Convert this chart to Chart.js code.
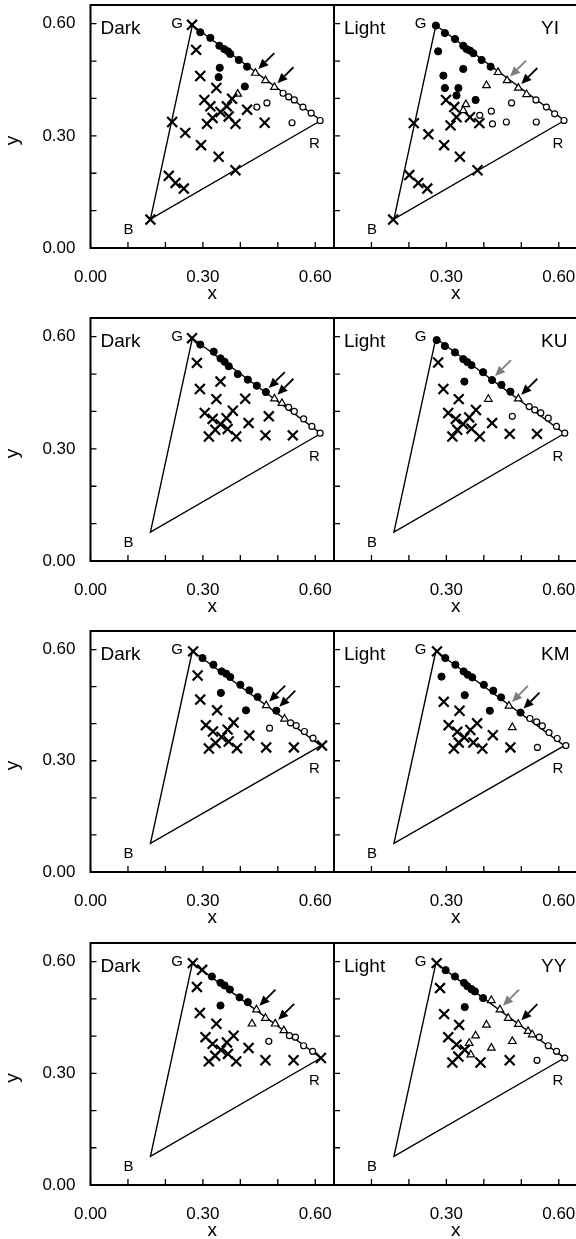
<!DOCTYPE html>
<html>
<head>
<meta charset="utf-8">
<script src="https://cdn.jsdelivr.net/npm/chart.js@4.4.1/dist/chart.umd.min.js"></script>
<style>
html,body{margin:0;padding:0;background:#fff;overflow:hidden;width:576px;height:1239px;}
canvas{position:absolute;}
</style>
</head>
<body>
<script>
// axis ticks (minor every 0.1, labelled every 0.3)
const axisTicks = [0, 0.1, 0.2, 0.3, 0.4, 0.5, 0.6];
const labelledTicks = [0, 0.3, 0.6];

// display primaries
const gamutNames = ['G', 'B', 'R'];
const gamutX = [0.272, 0.160, 0.615];
const gamutY = [0.596, 0.077, 0.341];

const observers = ['YI', 'KU', 'KM', 'YY'];
const conditions = ['Dark', 'Light'];

// ---- YI ----
const yiDarkFilled = [[0.293,0.577],[0.320,0.562],[0.344,0.541],[0.357,0.532],[0.367,0.526],[0.373,0.519],[0.396,0.503],[0.418,0.485],[0.345,0.482],[0.342,0.457],[0.412,0.432]];
const yiDarkTri = [[0.440,0.468],[0.467,0.448],[0.491,0.430],[0.393,0.412]];
const yiDarkOpen = [[0.514,0.414],[0.529,0.404],[0.544,0.396],[0.567,0.377],[0.589,0.361],[0.613,0.341],[0.444,0.377],[0.471,0.388],[0.538,0.335]];
const yiDarkCross = [[0.271,0.597],[0.282,0.530],[0.293,0.460],[0.336,0.428],[0.304,0.396],[0.320,0.379],[0.311,0.332],[0.326,0.348],[0.347,0.364],[0.364,0.379],[0.378,0.399],[0.369,0.352],[0.387,0.332],[0.418,0.370],[0.465,0.335],[0.218,0.337],[0.253,0.308],[0.295,0.275],[0.342,0.244],[0.387,0.208],[0.209,0.193],[0.227,0.174],[0.249,0.159],[0.160,0.076]];
const yiDarkArrows = [[0.440,0.468],[0.491,0.430]];

const yiLightFilled = [[0.272,0.595],[0.296,0.575],[0.323,0.559],[0.345,0.541],[0.354,0.532],[0.363,0.528],[0.372,0.521],[0.394,0.503],[0.418,0.485],[0.278,0.526],[0.292,0.461],[0.345,0.479],[0.296,0.428],[0.332,0.428],[0.327,0.408],[0.378,0.396]];
const yiLightTri = [[0.438,0.470],[0.462,0.448],[0.492,0.428],[0.514,0.411],[0.407,0.435],[0.352,0.384],[0.345,0.368]];
const yiLightOpen = [[0.539,0.396],[0.567,0.377],[0.589,0.359],[0.614,0.341],[0.389,0.355],[0.420,0.366],[0.474,0.388],[0.423,0.332],[0.460,0.337],[0.540,0.337]];
const yiLightCross = [[0.299,0.396],[0.321,0.377],[0.327,0.350],[0.311,0.328],[0.363,0.350],[0.388,0.334],[0.213,0.334],[0.252,0.304],[0.294,0.275],[0.336,0.244],[0.383,0.208],[0.201,0.195],[0.225,0.174],[0.249,0.159],[0.158,0.076]];
const yiLightArrows = [[0.462,0.448],[0.492,0.428]];

// ---- KU ----
const kuDarkFilled = [[0.293,0.579],[0.329,0.560],[0.347,0.542],[0.358,0.533],[0.369,0.521],[0.393,0.500],[0.420,0.485],[0.444,0.469],[0.468,0.452]];
const kuDarkTri = [[0.491,0.434],[0.511,0.422]];
const kuDarkOpen = [[0.529,0.411],[0.544,0.400],[0.569,0.380],[0.591,0.360],[0.613,0.342]];
const kuDarkCross = [[0.271,0.596],[0.284,0.530],[0.292,0.460],[0.347,0.480],[0.336,0.433],[0.413,0.434],[0.305,0.396],[0.326,0.380],[0.316,0.333],[0.333,0.351],[0.347,0.366],[0.363,0.382],[0.380,0.402],[0.366,0.353],[0.389,0.333],[0.422,0.369],[0.476,0.387],[0.467,0.336],[0.540,0.336]];
const kuDarkArrows = [[0.468,0.452],[0.491,0.434]];

const kuLightFilled = [[0.274,0.591],[0.296,0.575],[0.323,0.558],[0.345,0.540],[0.356,0.532],[0.367,0.524],[0.398,0.505],[0.422,0.484],[0.447,0.471],[0.471,0.453],[0.348,0.480]];
const kuLightTri = [[0.492,0.434],[0.412,0.433]];
const kuLightOpen = [[0.521,0.413],[0.536,0.404],[0.552,0.396],[0.572,0.382],[0.594,0.360],[0.616,0.342],[0.476,0.387]];
const kuLightCross = [[0.278,0.531],[0.292,0.460],[0.333,0.433],[0.305,0.396],[0.325,0.380],[0.379,0.404],[0.361,0.384],[0.345,0.366],[0.316,0.333],[0.329,0.351],[0.367,0.354],[0.389,0.333],[0.422,0.369],[0.469,0.340],[0.542,0.340]];
const kuLightArrows = [[0.422,0.484],[0.492,0.434]];

// ---- KM ----
const kmDarkFilled = [[0.299,0.577],[0.328,0.559],[0.350,0.541],[0.362,0.535],[0.373,0.526],[0.400,0.505],[0.424,0.490],[0.446,0.472],[0.496,0.435],[0.348,0.483],[0.415,0.436]];
const kmDarkTri = [[0.469,0.449],[0.518,0.413]];
const kmDarkOpen = [[0.534,0.402],[0.549,0.395],[0.571,0.379],[0.594,0.361],[0.478,0.388]];
const kmDarkCross = [[0.274,0.595],[0.618,0.341],[0.286,0.530],[0.293,0.465],[0.338,0.436],[0.308,0.396],[0.327,0.379],[0.316,0.333],[0.334,0.348],[0.350,0.364],[0.366,0.384],[0.382,0.403],[0.369,0.352],[0.391,0.334],[0.424,0.368],[0.469,0.336],[0.543,0.336]];
const kmDarkArrows = [[0.469,0.449],[0.496,0.435]];

const kmLightFilled = [[0.297,0.577],[0.324,0.559],[0.346,0.541],[0.357,0.532],[0.369,0.525],[0.400,0.505],[0.425,0.489],[0.446,0.471],[0.498,0.430],[0.287,0.527],[0.349,0.477],[0.416,0.435]];
const kmLightTri = [[0.467,0.448],[0.476,0.390]];
const kmLightOpen = [[0.523,0.414],[0.541,0.405],[0.556,0.394],[0.574,0.376],[0.596,0.360],[0.619,0.341],[0.543,0.336]];
const kmLightCross = [[0.275,0.595],[0.293,0.459],[0.335,0.435],[0.306,0.396],[0.329,0.378],[0.382,0.401],[0.364,0.383],[0.348,0.363],[0.320,0.333],[0.333,0.349],[0.372,0.349],[0.396,0.333],[0.424,0.369],[0.471,0.336]];
const kmLightArrows = [[0.467,0.448],[0.498,0.430]];

// ---- YY ----
const yyDarkFilled = [[0.324,0.560],[0.347,0.543],[0.358,0.536],[0.372,0.525],[0.398,0.504],[0.420,0.491],[0.347,0.482]];
const yyDarkTri = [[0.443,0.471],[0.467,0.448],[0.493,0.433],[0.516,0.415],[0.431,0.433]];
const yyDarkOpen = [[0.531,0.401],[0.547,0.397],[0.569,0.374],[0.593,0.359],[0.476,0.386]];
const yyDarkCross = [[0.273,0.596],[0.298,0.578],[0.615,0.341],[0.284,0.532],[0.292,0.462],[0.336,0.433],[0.307,0.397],[0.326,0.379],[0.316,0.332],[0.333,0.347],[0.348,0.363],[0.364,0.383],[0.382,0.401],[0.367,0.352],[0.389,0.332],[0.422,0.368],[0.467,0.335],[0.542,0.335]];
const yyDarkArrows = [[0.443,0.471],[0.493,0.433]];

const yyLightFilled = [[0.298,0.577],[0.323,0.560],[0.347,0.543],[0.356,0.534],[0.367,0.526],[0.376,0.520],[0.398,0.502],[0.349,0.478]];
const yyLightTri = [[0.420,0.496],[0.443,0.471],[0.465,0.448],[0.492,0.432],[0.518,0.413],[0.529,0.404],[0.407,0.430],[0.378,0.401],[0.361,0.381],[0.365,0.350],[0.420,0.368],[0.476,0.386]];
const yyLightOpen = [[0.548,0.397],[0.572,0.374],[0.594,0.359],[0.616,0.341],[0.542,0.335]];
const yyLightCross = [[0.274,0.596],[0.283,0.529],[0.294,0.459],[0.334,0.430],[0.305,0.397],[0.327,0.377],[0.316,0.329],[0.332,0.345],[0.349,0.363],[0.391,0.329],[0.469,0.335]];
const yyLightArrows = [[0.443,0.471],[0.492,0.432]];

const panels = [
  {obs:'YI', cond:'Dark',  filled:yiDarkFilled,  open:yiDarkOpen,  tri:yiDarkTri,  cross:yiDarkCross,  arrows:yiDarkArrows},
  {obs:'YI', cond:'Light', filled:yiLightFilled, open:yiLightOpen, tri:yiLightTri, cross:yiLightCross, arrows:yiLightArrows},
  {obs:'KU', cond:'Dark',  filled:kuDarkFilled,  open:kuDarkOpen,  tri:kuDarkTri,  cross:kuDarkCross,  arrows:kuDarkArrows},
  {obs:'KU', cond:'Light', filled:kuLightFilled, open:kuLightOpen, tri:kuLightTri, cross:kuLightCross, arrows:kuLightArrows},
  {obs:'KM', cond:'Dark',  filled:kmDarkFilled,  open:kmDarkOpen,  tri:kmDarkTri,  cross:kmDarkCross,  arrows:kmDarkArrows},
  {obs:'KM', cond:'Light', filled:kmLightFilled, open:kmLightOpen, tri:kmLightTri, cross:kmLightCross, arrows:kmLightArrows},
  {obs:'YY', cond:'Dark',  filled:yyDarkFilled,  open:yyDarkOpen,  tri:yyDarkTri,  cross:yyDarkCross,  arrows:yyDarkArrows},
  {obs:'YY', cond:'Light', filled:yyLightFilled, open:yyLightOpen, tri:yyLightTri, cross:yyLightCross, arrows:yyLightArrows}
];

// layout
const FONT = '"Liberation Sans", Arial, Helvetica, sans-serif';
const rowBox = [[5,248],[318,561],[631,872],[943,1185]];
const AREA_LEFT = [90.5, 334];
const AREA_W = 243.5;
const PAD_TOP = 8, X_AXIS_H = 57;

Chart.defaults.font.family = FONT;
Chart.defaults.color = '#000';

const toPts = arr => arr.map(([x, y]) => ({x, y}));
const near = (a, b) => Math.abs(a - b) < 1e-6;

function drawArrow(ctx, tx, ty, color) {
  const tailX = tx + 16, tailY = ty - 16;
  const ang = Math.atan2(ty - tailY, tx - tailX);
  const headLen = 10, headW = 4.5;
  const bx = tx - Math.cos(ang) * headLen, by = ty - Math.sin(ang) * headLen;
  ctx.strokeStyle = color;
  ctx.lineWidth = 1.8;
  ctx.beginPath();
  ctx.moveTo(tailX, tailY);
  ctx.lineTo(bx, by);
  ctx.stroke();
  ctx.fillStyle = color;
  ctx.beginPath();
  ctx.moveTo(tx, ty);
  ctx.lineTo(bx + Math.sin(ang) * headW, by - Math.cos(ang) * headW);
  ctx.lineTo(bx - Math.sin(ang) * headW, by + Math.cos(ang) * headW);
  ctx.closePath();
  ctx.fill();
}

function decorPlugin(p, col) {
  return {
    id: 'decor',
    afterDatasetsDraw(chart) {
      const ctx = chart.ctx, a = chart.chartArea;
      const xs = chart.scales.x, ys = chart.scales.y;
      ctx.save();
      // frame
      ctx.strokeStyle = '#000';
      ctx.lineWidth = 2;
      ctx.strokeRect(a.left, a.top, a.right - a.left, a.bottom - a.top);
      // inward ticks
      ctx.lineWidth = 1.3;
      ctx.beginPath();
      axisTicks.forEach(v => {
        const px = xs.getPixelForValue(v);
        ctx.moveTo(px, a.bottom); ctx.lineTo(px, a.bottom - 6);
        const py = ys.getPixelForValue(v);
        ctx.moveTo(a.left, py); ctx.lineTo(a.left + 6, py);
      });
      ctx.stroke();
      // arrows
      p.arrows.forEach(([x, y], i) => {
        const shade = (col === 1 && i === 0) ? '#7d7d7d' : '#000';
        drawArrow(ctx, xs.getPixelForValue(x) + 3, ys.getPixelForValue(y) - 4, shade);
      });
      // primaries
      ctx.fillStyle = '#000';
      ctx.font = '15px ' + FONT;
      ctx.textBaseline = 'alphabetic';
      const vx = gamutX.map(v => xs.getPixelForValue(v));
      const vy = gamutY.map(v => ys.getPixelForValue(v));
      ctx.textAlign = 'right';
      ctx.fillText(gamutNames[0], vx[0] - 9.5, vy[0] + 3);
      ctx.fillText(gamutNames[1], vx[1] - 17, vy[1] + 15);
      ctx.textAlign = 'left';
      ctx.fillText(gamutNames[2], vx[2] - 12, vy[2] + 27);
      // condition / observer
      ctx.font = '19px ' + FONT;
      ctx.fillText(p.cond, a.left + 10, a.top + 29);
      if (col === 1) ctx.fillText(p.obs, a.left + 207, a.top + 29);
      // y title
      if (col === 0) {
        ctx.save();
        ctx.translate(18, (a.top + a.bottom) / 2 + 14);
        ctx.rotate(-Math.PI / 2);
        ctx.textAlign = 'center';
        ctx.fillText('y', 0, 0);
        ctx.restore();
      }
      ctx.restore();
    }
  };
}

panels.forEach(p => {
  const row = observers.indexOf(p.obs);
  const col = conditions.indexOf(p.cond);
  const [top, bottom] = rowBox[row];
  const plotH = bottom - top;
  const yAxisW = col === 0 ? AREA_LEFT[0] : 10;
  const left = AREA_LEFT[col] - yAxisW;
  const width = col === 0 ? 340 : 256;
  const height = PAD_TOP + plotH + X_AXIS_H;
  const padRight = width - yAxisW - AREA_W;

  const canvas = document.createElement('canvas');
  canvas.width = width;
  canvas.height = height;
  canvas.style.left = left + 'px';
  canvas.style.top = (top - PAD_TOP) + 'px';
  canvas.style.width = width + 'px';
  canvas.style.height = height + 'px';
  document.body.appendChild(canvas);

  const gamut = toPts(gamutX.map((x, i) => [x, gamutY[i]]));
  gamut.push(gamut[0]);

  new Chart(canvas, {
    type: 'scatter',
    data: {
      datasets: [
        {data: toPts(p.cross), pointStyle: 'crossRot', pointRadius: 7, borderColor: '#000', borderWidth: 2.2, order: 1},
        {data: toPts(p.filled), pointStyle: 'circle', pointRadius: 3.6, backgroundColor: '#000', borderColor: '#000', borderWidth: 1, order: 1},
        {data: toPts(p.open), pointStyle: 'circle', pointRadius: 3, backgroundColor: '#fff', borderColor: '#000', borderWidth: 1.2, order: 1},
        {data: toPts(p.tri), pointStyle: 'triangle', pointRadius: 4.4, backgroundColor: '#fff', borderColor: '#000', borderWidth: 1.2, order: 1},
        {data: gamut, showLine: true, pointRadius: 0, borderColor: '#000', borderWidth: 1.4, fill: false, order: 5}
      ]
    },
    options: {
      responsive: false,
      maintainAspectRatio: false,
      devicePixelRatio: 1,
      animation: false,
      events: [],
      layout: {autoPadding: false, padding: {top: PAD_TOP, right: padRight, bottom: 0, left: 0}},
      plugins: {legend: {display: false}, tooltip: {enabled: false}},
      scales: {
        x: {
          type: 'linear', min: 0, max: 0.65,
          grid: {display: false, drawTicks: false},
          border: {display: false},
          afterBuildTicks: s => { s.ticks = axisTicks.map(v => ({value: v})); },
          afterFit: s => { s.height = X_AXIS_H; s.paddingLeft = 0; s.paddingRight = 0; },
          ticks: {
            autoSkip: false, maxRotation: 0, padding: 19, font: {size: 17}, color: '#000',
            callback: v => (labelledTicks.some(t => near(t, v)) && (col === 0 || v > 0)) ? v.toFixed(2) : ''
          },
          title: {display: true, text: 'x', font: {size: 19}, padding: 0, color: '#000'}
        },
        y: {
          type: 'linear', min: 0, max: 0.65,
          grid: {display: false, drawTicks: false},
          border: {display: false},
          afterBuildTicks: s => { s.ticks = axisTicks.map(v => ({value: v})); },
          afterFit: s => { s.width = yAxisW; s.paddingTop = 0; s.paddingBottom = 0; },
          ticks: {
            autoSkip: false, padding: 15, font: {size: 17}, color: '#000',
            callback: v => (col === 0 && labelledTicks.some(t => near(t, v))) ? v.toFixed(2) : ''
          }
        }
      }
    },
    plugins: [decorPlugin(p, col)]
  });
});
</script>
</body>
</html>
